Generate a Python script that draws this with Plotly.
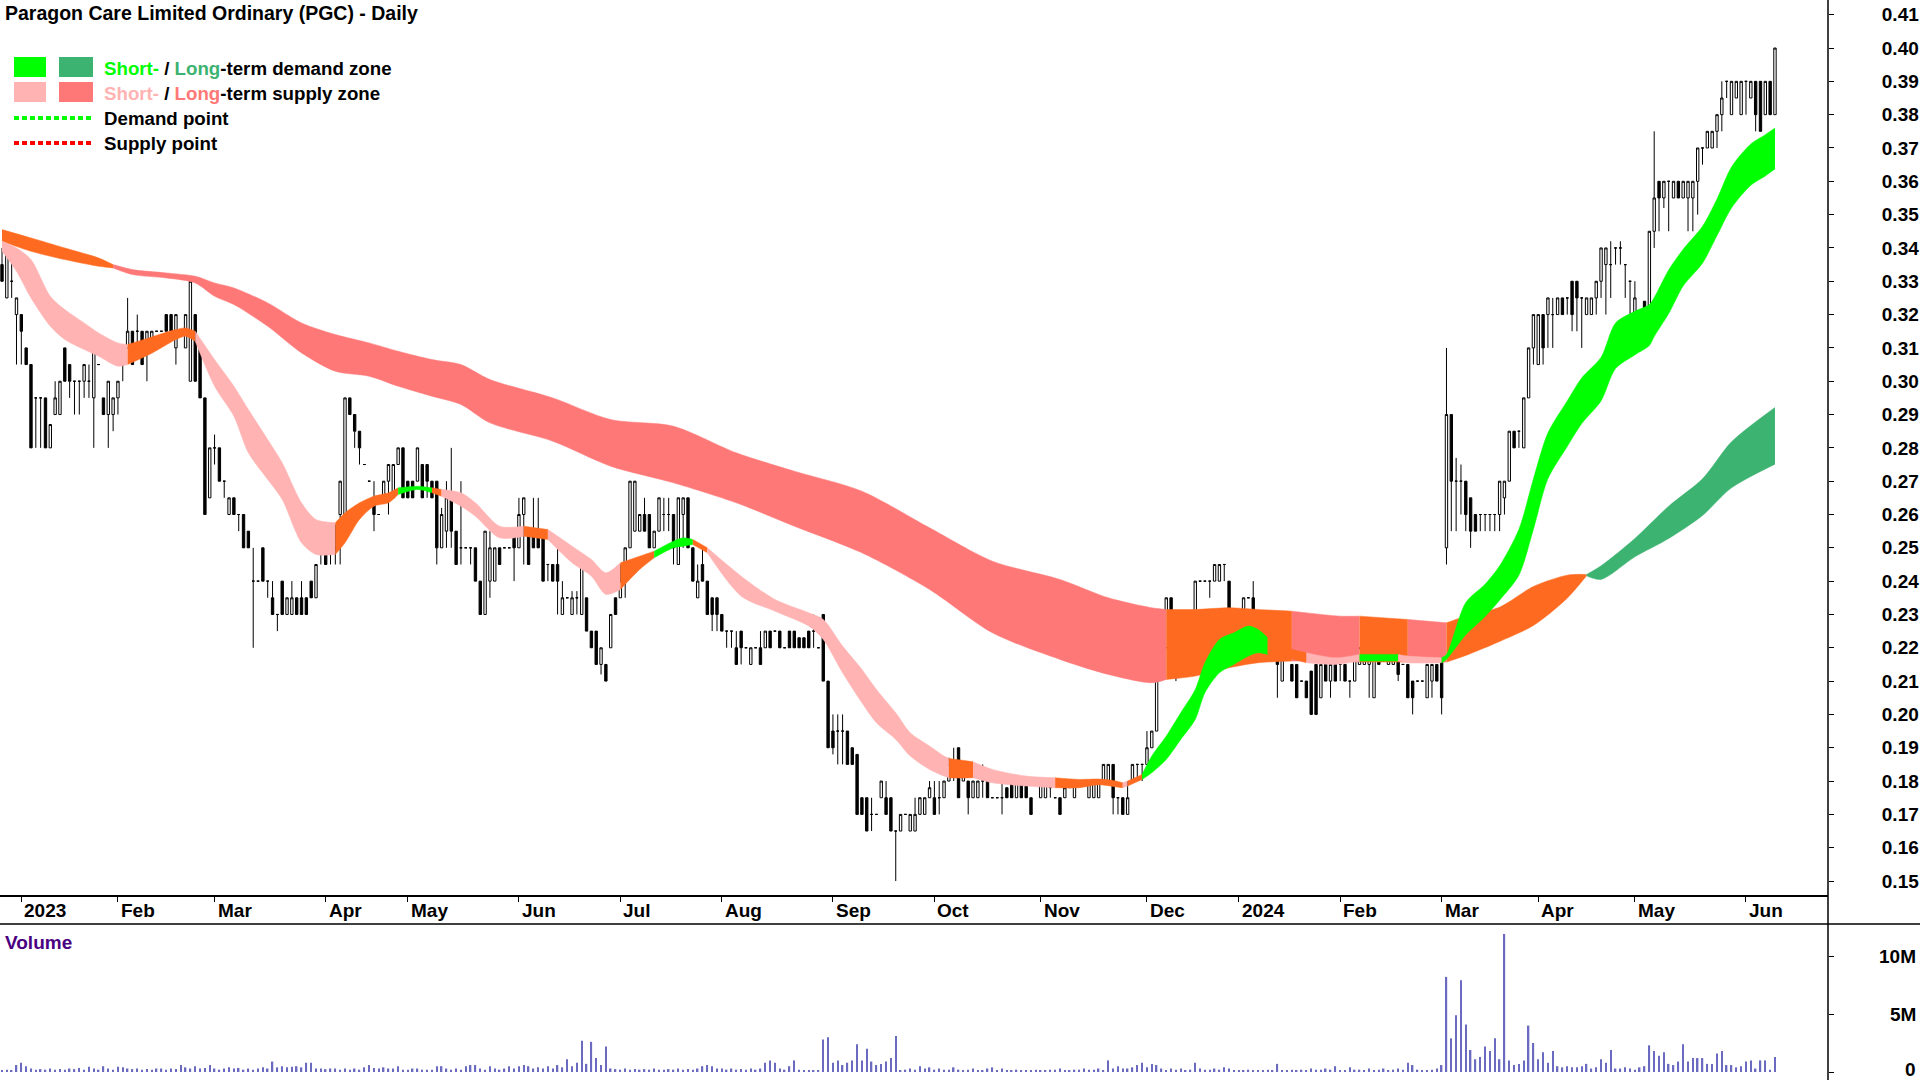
import plotly.graph_objects as go
import pandas as pd

# ---------------- data ----------------
open_p = [
    .335,.325,.33,.32,.32,.31,.305,.295,.295,.295,
    .28,.29,.29,.31,.305,.30,.30,.30,.30,.295,
    .305,.295,.29,.29,.295,.305,.31,.315,.315,.315,
    .31,.31,.315,.315,.32,.32,.31,.315,.31,.30,
    .32,.31,.295,.265,.28,.28,.27,.26,.265,.26,
    .26,.255,.24,.24,.25,.24,.235,.23,.24,.23,
    .23,.235,.235,.235,.24,.235,.255,.25,.25,.25,
    .26,.26,.295,.29,.285,.275,.27,.265,.26,.265,
    .27,.265,.275,.28,.27,.27,.27,.275,.275,.27,
    .27,.25,.255,.265,.255,.25,.25,.25,.25,.24,
    .23,.24,.24,.25,.25,.25,.255,.25,.26,.255,
    .255,.255,.255,.245,.245,.245,.23,.235,.23,.235,
    .23,.235,.225,.225,.215,.215,.22,.235,.235,.24,
    .25,.255,.255,.26,.26,.25,.255,.26,.26,.26,
    .245,.26,.265,.25,.235,.245,.24,.235,.235,.23,
    .225,.225,.22,.225,.22,.215,.22,.22,.22,.225,
    .225,.225,.22,.225,.225,.223,.223,.225,.225,.22,
    .23,.21,.195,.195,.195,.195,.19,.188,.175,.175,
    .17,.17,.175,.175,.175,.165,.165,.17,.165,.165,
    .17,.17,.175,.175,.175,.175,.18,.185,.19,.18,
    .18,.175,.175,.18,.18,.175,.175,.175,.178,.18,
    .175,.18,.18,.175,.18,.175,.175,.18,.175,.175,
    .175,.18,.175,.18,.18,.175,.175,.175,.18,.18,
    .185,.175,.175,.17,.18,.185,.185,.185,.19,.195,
    .215,.22,.235,.23,.23,.225,.23,.23,.24,.24,
    .24,.24,.24,.245,.24,.225,.23,.23,.235,.235,
    .225,.23,.22,.23,.225,.21,.22,.215,.215,.21,
    .21,.213,.215,.205,.215,.21,.215,.215,.215,.21,
    .21,.215,.215,.215,.205,.225,.22,.215,.215,.22,
    .215,.215,.21,.21,.21,.205,.21,.215,.22,.25,
    .29,.27,.27,.27,.265,.26,.26,.26,.26,.26,
    .26,.265,.27,.285,.285,.28,.295,.31,.305,.32,
    .32,.32,.32,.325,.325,.33,.33,.325,.32,.32,
    .325,.33,.335,.335,.34,.34,.335,.33,.318,.32,
    .324,.315,.345,.36,.355,.36,.355,.36,.355,.355,
    .355,.36,.37,.37,.37,.375,.38,.39,.38,.385,
    .38,.39,.385,.39,.39,.38,.39,.38,
]
high_p = [
    .34,.34,.34,.325,.32,.31,.305,.295,.295,.295,
    .287,.30,.30,.31,.305,.30,.30,.305,.305,.31,
    .305,.295,.30,.295,.30,.31,.325,.315,.32,.315,
    .315,.315,.315,.315,.32,.32,.32,.315,.32,.33,
    .32,.31,.295,.28,.284,.28,.27,.265,.265,.26,
    .26,.255,.25,.24,.25,.24,.24,.23,.24,.235,
    .24,.235,.24,.235,.24,.245,.255,.25,.255,.257,
    .27,.295,.295,.29,.285,.275,.27,.27,.26,.27,
    .275,.275,.28,.28,.27,.27,.28,.275,.275,.27,
    .27,.262,.27,.28,.255,.27,.25,.25,.25,.24,
    .255,.255,.25,.25,.25,.25,.255,.265,.265,.255,
    .265,.265,.255,.245,.245,.25,.24,.235,.237,.237,
    .245,.235,.225,.225,.22,.215,.23,.235,.245,.25,
    .27,.27,.26,.265,.26,.255,.265,.265,.265,.26,
    .265,.265,.265,.25,.245,.25,.24,.235,.235,.23,
    .225,.225,.225,.225,.22,.22,.22,.225,.225,.225,
    .225,.225,.22,.225,.225,.223,.223,.225,.23,.22,
    .23,.21,.20,.20,.20,.195,.19,.188,.175,.175,
    .175,.17,.18,.18,.175,.165,.17,.17,.17,.175,
    .175,.175,.18,.18,.18,.18,.187,.19,.19,.185,
    .18,.18,.18,.185,.18,.175,.175,.18,.178,.18,
    .18,.18,.18,.175,.18,.18,.18,.18,.175,.175,
    .178,.18,.18,.18,.18,.18,.18,.18,.185,.185,
    .185,.175,.175,.18,.185,.185,.185,.195,.195,.215,
    .225,.235,.235,.23,.23,.225,.23,.24,.24,.24,
    .24,.245,.245,.245,.24,.23,.23,.235,.235,.24,
    .225,.23,.225,.23,.225,.22,.22,.215,.215,.21,
    .21,.213,.215,.215,.215,.215,.215,.215,.215,.21,
    .22,.22,.22,.22,.22,.225,.22,.22,.22,.22,
    .215,.215,.21,.21,.21,.215,.215,.215,.22,.31,
    .29,.277,.275,.27,.265,.26,.26,.26,.26,.26,
    .27,.27,.285,.285,.285,.295,.31,.32,.32,.32,
    .325,.325,.325,.325,.325,.33,.33,.325,.325,.325,
    .33,.34,.34,.342,.34,.342,.335,.33,.33,.32,
    .324,.345,.375,.36,.36,.36,.36,.36,.36,.36,
    .36,.37,.37,.375,.375,.38,.39,.39,.39,.39,
    .39,.39,.39,.39,.39,.39,.39,.40,
]
low_p = [
    .33,.325,.325,.305,.305,.305,.28,.28,.28,.28,
    .28,.29,.29,.30,.295,.29,.29,.295,.295,.28,
    .305,.29,.28,.285,.29,.30,.31,.305,.31,.305,
    .30,.31,.315,.315,.315,.315,.305,.315,.31,.30,
    .30,.295,.26,.265,.275,.27,.265,.26,.26,.255,
    .25,.25,.22,.24,.24,.235,.23,.225,.23,.23,
    .23,.23,.23,.23,.235,.235,.245,.245,.245,.245,
    .245,.26,.29,.28,.275,.275,.27,.255,.26,.265,
    .26,.265,.275,.265,.265,.265,.27,.265,.265,.265,
    .245,.25,.25,.25,.245,.245,.25,.245,.24,.23,
    .23,.235,.24,.245,.25,.25,.24,.25,.245,.245,
    .25,.25,.24,.24,.24,.23,.23,.235,.23,.23,
    .23,.225,.22,.215,.212,.21,.22,.23,.235,.235,
    .25,.255,.255,.255,.25,.25,.255,.255,.255,.245,
    .245,.25,.25,.24,.235,.24,.23,.225,.225,.225,
    .22,.22,.215,.215,.22,.215,.22,.215,.22,.22,
    .225,.22,.22,.22,.22,.22,.22,.22,.22,.22,
    .21,.19,.188,.185,.185,.185,.185,.17,.17,.165,
    .165,.17,.175,.17,.165,.15,.165,.17,.165,.165,
    .17,.17,.175,.17,.17,.175,.18,.18,.175,.18,
    .17,.175,.175,.175,.175,.175,.175,.17,.175,.175,
    .175,.175,.175,.17,.18,.175,.175,.175,.175,.17,
    .175,.178,.175,.18,.18,.175,.175,.175,.18,.18,
    .17,.17,.17,.17,.18,.18,.18,.185,.19,.195,
    .21,.22,.23,.21,.225,.22,.225,.23,.24,.24,
    .235,.24,.24,.24,.23,.225,.22,.23,.235,.22,
    .225,.22,.22,.22,.205,.21,.22,.21,.205,.21,
    .205,.20,.20,.205,.21,.205,.21,.21,.21,.205,
    .21,.215,.215,.205,.205,.215,.22,.215,.215,.21,
    .215,.205,.20,.21,.21,.205,.205,.21,.20,.245,
    .255,.255,.26,.255,.25,.255,.255,.255,.255,.255,
    .255,.26,.27,.28,.28,.28,.295,.305,.305,.305,
    .31,.31,.32,.32,.32,.315,.315,.31,.32,.32,
    .32,.325,.32,.325,.335,.335,.325,.315,.315,.315,
    .315,.315,.34,.345,.352,.345,.355,.355,.355,.345,
    .345,.35,.365,.37,.37,.37,.375,.385,.38,.385,
    .38,.38,.385,.375,.375,.38,.38,.38,
]
close_p = [
    .33,.34,.33,.325,.315,.305,.28,.295,.295,.28,
    .287,.295,.30,.30,.30,.30,.30,.305,.30,.31,
    .305,.29,.30,.295,.30,.31,.315,.305,.315,.305,
    .315,.315,.315,.315,.315,.315,.32,.315,.32,.33,
    .30,.295,.26,.28,.28,.27,.27,.265,.26,.26,
    .25,.25,.24,.24,.24,.24,.23,.23,.23,.235,
    .235,.23,.23,.23,.235,.245,.25,.245,.25,.25,
    .27,.295,.29,.285,.28,.275,.27,.26,.26,.27,
    .275,.275,.28,.265,.265,.265,.28,.265,.27,.265,
    .25,.26,.265,.255,.245,.25,.25,.25,.24,.23,
    .255,.25,.25,.245,.25,.25,.25,.26,.265,.245,
    .25,.25,.24,.245,.24,.24,.235,.235,.235,.235,
    .245,.225,.22,.215,.22,.21,.23,.23,.24,.25,
    .27,.27,.26,.255,.25,.255,.265,.26,.26,.25,
    .265,.265,.25,.24,.24,.24,.23,.23,.23,.225,
    .225,.225,.215,.22,.22,.22,.22,.215,.225,.22,
    .225,.22,.22,.22,.22,.22,.22,.22,.225,.22,
    .21,.19,.19,.195,.195,.185,.185,.17,.17,.165,
    .17,.17,.18,.17,.165,.165,.17,.17,.17,.17,
    .175,.175,.178,.17,.175,.18,.185,.185,.175,.185,
    .175,.18,.18,.18,.175,.175,.175,.175,.175,.175,
    .18,.175,.175,.17,.18,.18,.18,.178,.175,.17,
    .178,.178,.18,.18,.18,.18,.18,.18,.185,.185,
    .175,.175,.17,.175,.185,.185,.185,.19,.195,.215,
    .215,.235,.23,.23,.225,.22,.23,.24,.24,.24,
    .24,.245,.245,.245,.23,.23,.225,.235,.235,.22,
    .225,.22,.225,.22,.215,.22,.22,.21,.205,.21,
    .205,.20,.20,.215,.21,.215,.21,.215,.21,.21,
    .22,.22,.22,.22,.22,.215,.22,.22,.22,.212,
    .215,.205,.205,.21,.21,.215,.215,.21,.205,.29,
    .27,.27,.27,.26,.255,.255,.26,.26,.26,.26,
    .27,.27,.285,.28,.285,.295,.31,.32,.32,.31,
    .325,.32,.325,.32,.325,.32,.325,.325,.325,.325,
    .33,.34,.34,.335,.34,.34,.335,.33,.325,.315,
    .315,.345,.355,.355,.36,.36,.36,.355,.36,.36,
    .36,.37,.37,.375,.375,.38,.385,.39,.39,.39,
    .39,.39,.39,.38,.375,.39,.38,.40,
]
volume_m = [
    0.15,0.2,0.15,0.6,0.8,0.5,0.3,0.2,0.25,0.2,
    0.3,0.2,0.25,0.2,0.3,0.25,0.35,0.2,0.45,0.3,
    0.2,0.5,0.3,0.2,0.45,0.4,0.3,0.25,0.3,0.2,
    0.25,0.2,0.3,0.3,0.2,0.3,0.25,0.6,0.4,0.3,
    0.5,0.3,0.35,0.6,0.3,0.2,0.3,0.4,0.3,0.35,
    0.2,0.3,0.2,0.3,0.4,0.3,0.9,0.4,0.5,0.4,
    0.45,0.5,0.4,0.8,0.8,0.3,0.3,0.25,0.3,0.3,
    0.2,0.3,0.2,0.3,0.2,0.4,0.6,0.35,0.3,0.4,
    0.3,0.3,0.5,0.2,0.2,0.3,0.3,0.2,0.2,0.2,
    0.5,0.5,0.3,0.2,0.3,0.2,0.5,0.6,0.6,0.3,
    0.2,0.5,0.3,0.2,0.3,0.5,0.3,0.5,0.6,0.5,
    0.3,0.4,0.3,0.5,0.3,0.6,0.4,1.1,0.5,0.8,
    2.7,0.7,2.6,1.2,0.6,2.2,0.3,0.25,0.2,0.3,
    0.2,0.25,0.2,0.25,0.2,0.3,0.2,0.2,0.25,0.2,
    0.3,0.2,0.25,0.2,0.3,0.5,0.6,0.5,0.3,0.3,
    0.2,0.3,0.2,0.25,0.2,0.3,0.2,0.3,0.8,1.0,
    0.8,0.3,0.2,0.5,1.0,0.2,0.1,0.1,0.1,0.1,
    2.8,3.0,0.8,1.0,0.6,0.8,1.0,2.4,1.0,2.0,
    0.9,0.6,0.7,0.9,1.2,3.1,0.1,0.2,0.3,0.2,
    0.5,0.3,0.4,0.2,0.3,0.2,0.2,0.4,0.2,0.1,
    0.2,0.3,0.1,0.1,0.3,0.4,0.1,0.3,0.1,0.1,
    0.2,0.1,0.1,0.1,0.2,0.1,0.1,0.2,0.2,0.3,
    0.1,0.1,0.2,0.2,0.3,0.2,0.2,0.3,0.1,1.0,
    0.3,0.5,0.3,0.3,0.4,0.6,0.8,0.4,0.7,0.6,
    0.3,0.1,0.3,0.2,0.3,0.1,0.2,0.8,0.3,0.2,
    0.2,0.3,0.2,0.4,0.3,0.1,0.1,0.1,0.2,0.1,
    0.1,0.1,0.2,0.1,0.7,0.1,0.1,0.2,0.1,0.2,
    0.1,0.3,0.2,0.2,0.3,0.2,0.5,0.1,0.1,0.4,
    0.2,0.2,0.1,0.3,0.1,0.2,0.3,0.1,0.2,0.3,
    0.2,0.8,0.6,0.2,0.1,0.1,0.2,0.3,0.6,8.2,
    2.9,4.9,7.9,4.1,1.9,1.1,1.3,2.2,1.8,2.9,
    1.1,11.9,1.0,0.6,0.7,1.0,4.0,2.5,1.1,1.7,
    0.8,1.8,0.5,0.4,0.5,0.4,0.4,0.5,0.7,0.3,
    0.4,1.1,0.8,1.9,0.3,0.3,0.4,0.3,0.2,0.4,
    0.5,2.3,1.8,1.4,1.7,0.7,0.6,0.9,2.4,0.9,
    1.2,1.2,1.2,0.7,0.7,1.6,1.8,0.6,0.6,0.4,
    0.5,0.9,1.0,0.3,1.0,1.0,0.2,1.3,
]

# short-term zone (trading-day index, upper edge, lower edge, zone of following stretch)
st_i = [0,3,6,10,13,17,20,24,26,31,
        36,38,40,44,48,51,55,58,62,65,
        69,71,74,77,80,82,86,89,91,95,
        98,103,108,113,118,122,125,128,132,135,
        139,141,143,146,153,160,167,170,174,178,
        181,185,188,192,195,196,198,201,205,212,
        218,223,227,230,232,233,236,238,241,244,
        247,249,252,255,258,260,262,266,270,276,
        281,289,291,298,299,303,307,310,314,317,
        320,324,327,331,334,338,341,342,345,348,
        352,355,358,362,365,367]
st_top = [.342,.340,.3365,.3255,.3215,.3175,.3145,.3115,.311,.3133,
          .3155,.316,.315,.3065,.2985,.2915,.2825,.2755,.2635,.2585,
          .2575,.2605,.2635,.2655,.2665,.268,.2685,.268,.2675,.2665,
          .2635,.2565,.2565,.2555,.2505,.2465,.2425,.2455,.2475,.249,
          .252,.253,.2525,.250,.2415,.2345,.2305,.2285,.2205,.2135,
          .2075,.2005,.1945,.1905,.1875,.1868,.1864,.1858,.1835,.1815,
          .181,.1805,.1806,.1802,.1795,.180,.182,.1875,.1935,.2005,
          .2075,.2155,.2225,.2245,.2265,.2255,.223,.220,.2185,.217,
          .218,.218,.2175,.217,.218,.2336,.2391,.2446,.2556,.2707,
          .2845,.2941,.301,.3072,.3175,.321,.323,.3251,.3334,.3396,
          .3465,.3547,.3643,.3712,.374,.376]
st_bot = [.339,.333,.325,.3165,.3125,.3095,.3075,.3045,.305,.3084,
          .3125,.3135,.312,.2985,.2895,.2785,.2705,.2645,.2515,.248,
          .248,.2515,.2585,.2625,.2635,.266,.2675,.2665,.2655,.2625,
          .2595,.253,.2535,.2525,.2455,.2415,.236,.2375,.2435,.247,
          .250,.2505,.251,.2485,.2355,.231,.2265,.2225,.2125,.2035,
          .1975,.1925,.1875,.1835,.1815,.181,.1809,.181,.1795,.1785,
          .178,.178,.1789,.1784,.178,.1785,.1805,.1825,.1865,.1925,
          .1985,.2065,.2125,.215,.2175,.2185,.218,.217,.2155,.215,
          .216,.216,.2155,.2155,.2165,.2239,.2294,.2343,.2418,.2556,
          .2707,.2804,.2873,.2941,.3038,.3079,.3107,.3134,.3203,.3286,
          .3354,.3437,.352,.3588,.3616,.3637]
st_zone = ["ss","ss","ss","ss","ss","ss","ss","ss","o","o",
           "o","o","ss","ss","ss","ss","ss","ss","ss","ss",
           "o","o","o","o","o","sd","sd","o","ss","ss",
           "ss","ss","o","ss","ss","ss","ss","o","o","sd",
           "sd","sd","o","ss","ss","ss","ss","ss","ss","ss",
           "ss","ss","ss","ss","ss","o","o","ss","ss","ss",
           "o","o","o","o","ss","o","sd","sd","sd","sd",
           "sd","sd","sd","sd","sd","sd","o","o","ss","ss",
           "sd","ss","ss","sd","sd","sd","sd","sd","sd","sd",
           "sd","sd","sd","sd","sd","sd","sd","sd","sd","sd",
           "sd","sd","sd","sd","sd","sd"]

# long-term zone
lt_i = [0,6,13,20,23,27,34,40,44,48,
        55,62,69,76,82,89,95,101,114,126,
        139,152,164,178,192,205,219,229,238,241,
        247,254,260,267,277,281,291,299,303,310,
        317,324,328,331,338,345,352,358,367]
lt_top = [.3455,.343,.340,.337,.335,.3335,.3325,.3315,.3295,.328,
          .3235,.3175,.314,.3115,.309,.3065,.305,.3005,.295,.2885,
          .2865,.2785,.273,.267,.256,.246,.2405,.235,.232,.2315,
          .2315,.232,.2315,.231,.2295,.2295,.2285,.2275,.2295,.2322,
          .2384,.2418,.242,.2446,.2528,.2625,.2707,.2818,.2921]
lt_bot = [.342,.339,.3365,.3345,.334,.332,.331,.3295,.3255,.323,
          .3165,.3085,.303,.3015,.2985,.2955,.293,.2875,.282,.2745,
          .2695,.2635,.2565,.2485,.2375,.2245,.2165,.212,.2095,.2105,
          .2115,.214,.2155,.216,.216,.2157,.2157,.2157,.2177,.2219,
          .2267,.2349,.2416,.2405,.2473,.2528,.2597,.268,.2751]
lt_zone = ["o","o","o","o","ls","ls","ls","ls","ls","ls",
           "ls","ls","ls","ls","ls","ls","ls","ls","ls","ls",
           "ls","ls","ls","ls","ls","ls","ls","ls","ls","o",
           "o","o","o","ls","ls","o","ls","o","o","o",
           "o","o","ld","ld","ld","ld","ld","ld","ld"]

price_ticks = [round(0.15 + 0.01 * k, 2) for k in range(27)]
volume_ticks = [0, 5, 10]
volume_tick_text = ["0", "5M", "10M"]

title_text = "Paragon Care Limited Ordinary (PGC) - Daily"
asx_holidays = ["2022-12-26", "2022-12-27", "2023-01-02", "2023-01-26", "2023-04-07",
                "2023-04-10", "2023-04-25", "2023-06-12", "2023-12-25", "2023-12-26",
                "2024-01-01", "2024-01-26", "2024-03-29", "2024-04-01", "2024-04-25",
                "2024-06-10"]

# ---------------- styling / layout constants ----------------
ZONE_COLORS = {"sd": "#00FF00", "ld": "#3CB371", "ss": "#FFB3B3",
               "ls": "#FF7878", "o": "#FF6A21"}
FONT = "Arial, Liberation Sans, sans-serif"
W, H = 1920, 1080
AXIS_X = 1828          # right axis line (px)
PRICE_BOTTOM = 895     # bottom of price panel (px)
VOL_TOP = 924          # top of volume panel (px)
BAR_X0, BAR_DX = 2.0, 4.831   # px of first bar, px per trading day
Y041, PX_CENT = 14.7, 33.32   # px of 0.41, px per 0.01
VOL0_PX, PX_PER_M = 1072, 11.6

def px_x(px):
    return px / W

def px_y(py):
    return 1 - py / H

n = len(close_p)
idx = list(range(n))
trading_days = [d for d in pd.bdate_range("2022-12-23", "2024-07-31")
                if d.strftime("%Y-%m-%d") not in asx_holidays][:n]

tick_pos, tick_txt = [], []
prev = (trading_days[0].year, trading_days[0].month)
for k, d in enumerate(trading_days):
    if (d.year, d.month) != prev:
        tick_pos.append(k)
        tick_txt.append(str(d.year) if d.month == 1 else d.strftime("%b"))
        prev = (d.year, d.month)

x_lo = (0 - BAR_X0) / BAR_DX
x_hi = (AXIS_X - BAR_X0) / BAR_DX
p_top = 0.41 + (Y041 - 0) / PX_CENT * 0.01
p_bot = 0.41 - (PRICE_BOTTOM - Y041) / PX_CENT * 0.01
v_bot = -(H - VOL0_PX) / PX_PER_M
v_top = (VOL0_PX - VOL_TOP) / PX_PER_M

fig = go.Figure()


def add_band(xs, top, bot, zones):
    k = 0
    last = len(xs) - 1
    while k < last:
        z = zones[k]
        j = k
        while j < last and zones[j] == z:
            j += 1
        c = ZONE_COLORS[z]
        seg_x = xs[k:j + 1]
        fig.add_trace(go.Scatter(x=seg_x, y=bot[k:j + 1], mode="lines",
                                 line=dict(width=0.5, color=c, shape="spline", smoothing=0.8),
                                 hoverinfo="skip", xaxis="x", yaxis="y"))
        fig.add_trace(go.Scatter(x=seg_x, y=top[k:j + 1], mode="lines", fill="tonexty",
                                 fillcolor=c,
                                 line=dict(width=0.5, color=c, shape="spline", smoothing=0.8),
                                 hoverinfo="skip", xaxis="x", yaxis="y"))
        k = j


add_band(lt_i, lt_top, lt_bot, lt_zone)
add_band(st_i, st_top, st_bot, st_zone)

fig.add_trace(go.Candlestick(
    x=idx, open=open_p, high=high_p, low=low_p, close=close_p,
    increasing=dict(line=dict(color="black", width=1), fillcolor="white"),
    decreasing=dict(line=dict(color="black", width=1), fillcolor="black"),
    whiskerwidth=0, hoverinfo="skip", xaxis="x", yaxis="y"))

fig.add_trace(go.Bar(x=idx, y=volume_m, width=0.3, marker=dict(color="#6A6AC0", line=dict(width=0)),
                     hoverinfo="skip", xaxis="x2", yaxis="y2"))

annotations = []
# title
annotations.append(dict(text="<b>" + title_text + "</b>", x=px_x(3), y=px_y(13), xref="paper", yref="paper",
                        xanchor="left", yanchor="middle", showarrow=False,
                        font=dict(family=FONT, size=19.5, color="black")))
# legend texts
leg_rows = [
    ('<span style="color:#00FF00">Short-</span> / <span style="color:#3CB371">Long</span>-term demand zone', 68),
    ('<span style="color:#FFB3B3">Short-</span> / <span style="color:#FF7878">Long</span>-term supply zone', 93),
    ("Demand point", 118),
    ("Supply point", 143),
]
for txt, yy in leg_rows:
    annotations.append(dict(text="<b>" + txt + "</b>", x=px_x(102), y=px_y(yy), xref="paper", yref="paper",
                            xanchor="left", yanchor="middle", showarrow=False,
                            font=dict(family=FONT, size=18.7, color="black")))
# volume label
annotations.append(dict(text="<b>Volume</b>", x=px_x(3), y=px_y(942), xref="paper", yref="paper",
                        xanchor="left", yanchor="middle", showarrow=False,
                        font=dict(family=FONT, size=19, color="#4B0082")))
# date labels
for p, t in zip(tick_pos, tick_txt):
    annotations.append(dict(text="<b>" + t + "</b>", x=p, y=px_y(910), xref="x", yref="paper",
                            xanchor="left", yanchor="middle", xshift=1, showarrow=False,
                            font=dict(family=FONT, size=19, color="black")))
# volume tick labels (kept inside the page)
for v, t in zip(volume_ticks, volume_tick_text):
    annotations.append(dict(text="<b>" + t + "</b>", x=px_x(1918), y=v, xref="paper", yref="y2",
                            xanchor="right", yanchor="middle", showarrow=False,
                            yshift=3 if v == 0 else 0,
                            font=dict(family=FONT, size=19, color="black")))

shapes = [
    dict(type="line", xref="paper", yref="paper", x0=px_x(AXIS_X), x1=px_x(AXIS_X), y0=0, y1=1,
         line=dict(color="black", width=1.5)),
    dict(type="line", xref="paper", yref="paper", x0=0, x1=1, y0=px_y(VOL_TOP), y1=px_y(VOL_TOP),
         line=dict(color="black", width=1.5)),
    dict(type="rect", xref="paper", yref="paper", x0=px_x(14), x1=px_x(46), y0=px_y(57), y1=px_y(77),
         fillcolor=ZONE_COLORS["sd"], line=dict(width=0)),
    dict(type="rect", xref="paper", yref="paper", x0=px_x(59), x1=px_x(93), y0=px_y(57), y1=px_y(77),
         fillcolor=ZONE_COLORS["ld"], line=dict(width=0)),
    dict(type="rect", xref="paper", yref="paper", x0=px_x(14), x1=px_x(46), y0=px_y(82), y1=px_y(102),
         fillcolor=ZONE_COLORS["ss"], line=dict(width=0)),
    dict(type="rect", xref="paper", yref="paper", x0=px_x(59), x1=px_x(93), y0=px_y(82), y1=px_y(102),
         fillcolor=ZONE_COLORS["ls"], line=dict(width=0)),
    dict(type="line", xref="paper", yref="paper", x0=px_x(14), x1=px_x(92), y0=px_y(118), y1=px_y(118),
         line=dict(color="#00FF00", width=4, dash="5px,3px")),
    dict(type="line", xref="paper", yref="paper", x0=px_x(14), x1=px_x(92), y0=px_y(143), y1=px_y(143),
         line=dict(color="#FF0000", width=4, dash="5px,3px")),
]

fig.update_layout(
    width=W, height=H, margin=dict(l=0, r=0, t=0, b=0),
    paper_bgcolor="white", plot_bgcolor="white", showlegend=False,
    xaxis=dict(domain=[0, px_x(AXIS_X)], range=[x_lo, x_hi], anchor="y",
               tickmode="array", tickvals=tick_pos, ticks="outside", ticklen=5, tickwidth=1,
               tickcolor="black", showticklabels=False, showgrid=False, zeroline=False,
               showline=True, linecolor="black", linewidth=1.5,
               rangeslider=dict(visible=False), fixedrange=True),
    xaxis2=dict(domain=[0, px_x(AXIS_X)], range=[x_lo, x_hi], anchor="y2",
                showticklabels=False, ticks="", showgrid=False, zeroline=False, showline=False),
    yaxis=dict(domain=[px_y(PRICE_BOTTOM), 1], range=[p_bot, p_top], side="right", anchor="x",
               tickmode="array", tickvals=price_ticks, ticktext=[f"{v:.2f}" for v in price_ticks],
               ticks="outside", ticklen=5, tickwidth=1, tickcolor="black",
               tickfont=dict(family=FONT, size=19, color="black", weight="bold"),
               ticklabelstandoff=44,
               showgrid=False, zeroline=False, showline=False),
    yaxis2=dict(domain=[0, px_y(VOL_TOP)], range=[v_bot, v_top], side="right", anchor="x2",
                tickmode="array", tickvals=volume_ticks, ticks="outside", ticklen=5, tickwidth=1,
                tickcolor="black", showticklabels=False, showgrid=False, zeroline=False, showline=False),
    annotations=annotations, shapes=shapes,
)

fig.write_html("out.html", config={"displayModeBar": False},
               post_script="document.body.style.margin='0';document.body.style.overflow='hidden';")
